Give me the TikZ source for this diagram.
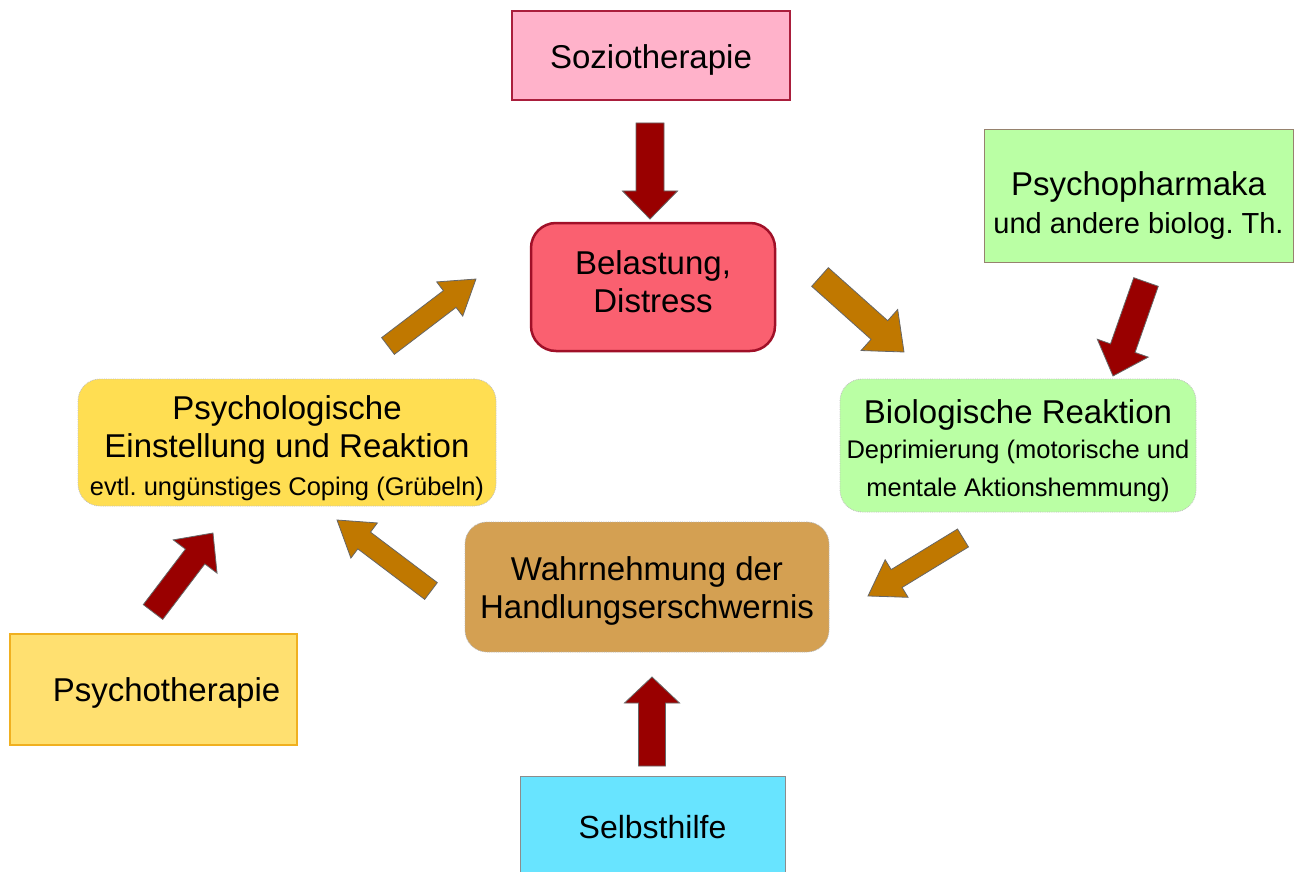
\documentclass[tikz,border=0pt]{standalone}
\usepackage{fontspec}
\setmainfont{Liberation Sans}
\frenchspacing
\usetikzlibrary{calc}
\definecolor{arrred}{RGB}{153,0,0}
\definecolor{arrbrown}{RGB}{192,120,0}
\definecolor{pinkfill}{RGB}{255,178,202}
\definecolor{pinkline}{RGB}{170,30,60}
\definecolor{redfill}{RGB}{250,96,112}
\definecolor{redline}{RGB}{160,16,40}
\definecolor{greenfill}{RGB}{186,255,164}
\definecolor{greenline}{RGB}{150,130,110}
\definecolor{yellowfill}{RGB}{255,222,82}
\definecolor{tanfill}{RGB}{212,160,82}
\definecolor{psyfill}{RGB}{255,224,112}
\definecolor{psyline}{RGB}{240,176,32}
\definecolor{cyanfill}{RGB}{104,228,255}
\newcommand\blockarrow[6]{%
  \draw[blockarr, fill=#1] let \p1=(#2), \p2=(#3),
    \n1={atan2(\y2-\y1,\x2-\x1)}, \n2={veclen(\x2-\x1,\y2-\y1)} in
    [shift={(\p1)}, rotate=\n1]
    (0,#4) -- ({\n2-#6},#4) -- ({\n2-#6},#5) -- (\n2,0) --
    ({\n2-#6},-#5) -- ({\n2-#6},-#4) -- (0,-#4) -- cycle;}
\newcommand\tstrut[1]{\rule{0pt}{#1pt}}
\tikzset{
  box/.style={inner sep=0pt, align=center, font=\fontsize{33}{38}\selectfont},
  blockarr/.style={draw=black!60, line width=0.8pt, line join=miter},
}
\newcommand\smalltxt{\fontsize{25.5}{38}\selectfont}
\begin{document}
\begin{tikzpicture}[x=1pt,y=-1pt]
\clip (0,0) rectangle (1294,872);
\fill[white] (0,0) rectangle (1294,872);

\node[box, draw=pinkline, line width=1.5pt, fill=pinkfill,
      minimum width=278pt, minimum height=89pt] (sozio) at (651,55.5) {\tstrut{32}Soziotherapie};
\node[box, draw=redline, line width=2.5pt, fill=redfill, rounded corners=25pt,
      minimum width=244pt, minimum height=128pt] (belast) at (653,287)
      {Belastung,\\Distress\rule[-10pt]{0pt}{10pt}};
\node[box, draw=greenline, line width=1pt, fill=greenfill,
      minimum width=309pt, minimum height=132pt] (pharma) at (1138.5,196)
      {\fontsize{33}{37}\selectfont\tstrut{44}Psychopharmaka\\\fontsize{29}{37}\selectfont und andere biolog. Th.};
\node[box, draw=black!25, densely dotted, line width=0.8pt, fill=greenfill, rounded corners=22pt,
      minimum width=356pt, minimum height=133pt] (bio) at (1018,445.5)
      {\tstrut{34}Biologische Reaktion\\[-3pt]\smalltxt Deprimierung (motorische und\\\smalltxt mentale Aktionshemmung)};
\node[box, draw=black!25, densely dotted, line width=0.8pt, fill=yellowfill, rounded corners=22pt,
      minimum width=418pt, minimum height=127pt] (psycho) at (287,442.5)
      {\tstrut{36}Psychologische\\Einstellung und Reaktion\\\smalltxt evtl. ungünstiges Coping (Grübeln)};
\node[box, draw=black!30, densely dotted, line width=0.8pt, fill=tanfill, rounded corners=22pt,
      minimum width=364pt, minimum height=130pt] (wahr) at (647,587)
      {\tstrut{32}Wahrnehmung der\\Handlungserschwernis};
\node[box, draw=psyline, line width=1.2pt, fill=psyfill,
      minimum width=287pt, minimum height=111pt] (ptherapie) at (153.5,689.5)
      {\hspace*{26pt}\tstrut{30}Psychotherapie};
\node[box, draw=black!45, line width=1pt, fill=cyanfill, font=\fontsize{32}{38}\selectfont,
      minimum width=265pt, minimum height=100pt] (selbst) at (652.5,826) {\tstrut{26}Selbsthilfe};

% arrow end points
\coordinate (a1) at (650,123);  \coordinate (b1) at (650,219);
\coordinate (a2) at (652,766);  \coordinate (b2) at (652,677);
\coordinate (a3) at (1146,282); \coordinate (b3) at (1113,376);
\coordinate (a4) at (820,277);  \coordinate (b4) at (904,352);
\coordinate (a5) at (388,346);  \coordinate (b5) at (476,279);
\coordinate (a6) at (963,538);  \coordinate (b6) at (868,596);
\coordinate (a7) at (431,591);  \coordinate (b7) at (337,520);
\coordinate (a8) at (153,612);  \coordinate (b8) at (213,533);

\blockarrow{arrred}{a1}{b1}{14}{27.5}{28}
\blockarrow{arrred}{a2}{b2}{13.5}{27.5}{26}
\blockarrow{arrred}{a3}{b3}{13}{27}{29.5}
\blockarrow{arrbrown}{a4}{b4}{12.5}{27.5}{33}
\blockarrow{arrbrown}{a5}{b5}{10.5}{21.5}{33}
\blockarrow{arrbrown}{a6}{b6}{10.5}{22}{33.5}
\blockarrow{arrbrown}{a7}{b7}{10.5}{22}{34}
\blockarrow{arrred}{a8}{b8}{12.2}{27.5}{29.5}
\end{tikzpicture}
\end{document}
